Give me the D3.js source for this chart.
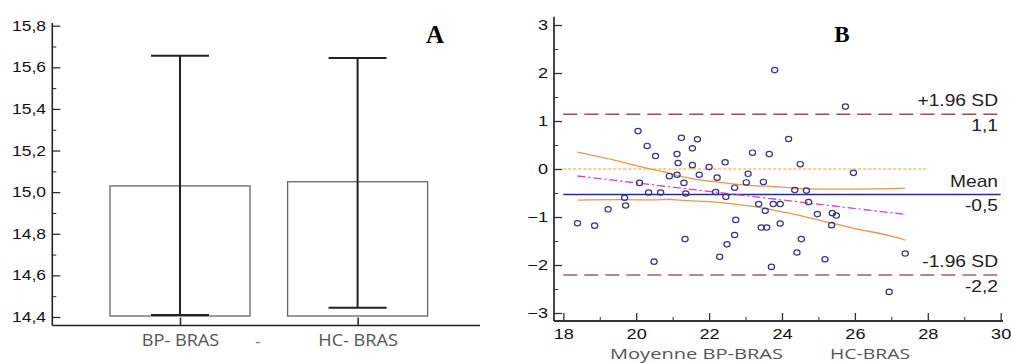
<!DOCTYPE html>
<html><head><meta charset="utf-8">
<script src="https://cdn.jsdelivr.net/npm/d3@7"></script>
<style>body{margin:0;background:#fff}svg{display:block}</style>
</head><body>
<svg id="c" width="1011" height="363"></svg>
<script>
// ---------- Panel A data ----------
const groups = ["BP- BRAS", "HC- BRAS"];
const groupMeans = [15.03, 15.05];
const groupLow = [14.41, 14.445];
const groupHigh = [15.655, 15.645];
const yTicksA = [14.4, 14.6, 14.8, 15.0, 15.2, 15.4, 15.6, 15.8];
const yMinorA = [14.5, 14.7, 14.9, 15.1, 15.3, 15.5, 15.7];

// ---------- Panel B data ----------
const meanX = [18.39,18.86,19.23,19.68,19.71,20.05,20.09,20.30,20.34,20.49,20.53,20.67,20.91,21.12,21.15,21.12,21.24,21.31,21.34,21.36,21.54,21.54,21.68,21.73,22.00,22.22,22.18,22.29,22.44,22.46,22.49,22.70,22.70,22.73,23.02,23.07,23.19,23.36,23.43,23.65,23.49,23.54,23.76,23.58,23.71,24.18,24.50,25.96,24.35,24.67,23.95,24.73,24.97,25.38,25.49,23.95,25.36,24.53,24.41,25.18,27.38,26.94,23.80,25.74];
const diffY = [-1.13,-1.18,-0.84,-0.60,-0.76,0.79,-0.29,0.48,-0.49,-1.93,0.27,-0.49,-0.15,0.31,0.125,-0.12,0.65,-0.29,-1.46,-0.51,0.43,0.08,0.62,-0.12,0.04,-0.18,-0.48,-1.83,0.14,-0.58,-1.57,-0.39,-1.375,-1.06,-0.28,-0.10,0.34,-0.73,-1.22,0.31,-0.27,-0.87,-0.73,-1.22,-2.04,0.625,0.10,-0.08,-0.44,-0.45,-0.73,-0.69,-0.94,-0.92,-0.97,-1.135,-1.17,-1.46,-1.74,-1.88,-1.76,-2.56,2.06,1.30];
const limitValues = [1.14, -0.53, -2.21];
const limitNames = ["+1.96 SD", "Mean", "-1.96 SD"];
const limitTexts = ["1,1", "-0,5", "-2,2"];
const zeroLineX = [18, 28];
const regX = [18.39, 27.38];
const regY = [-0.146, -0.945];
const ciX = [18.39, 19.6, 20.5, 20.9, 21.2, 22.2, 23.1, 23.8, 24.2, 25.1, 26.0, 27.0, 27.38];
const ciUpper = [0.35, 0.15, -0.02, -0.08, -0.15, -0.27, -0.34, -0.37, -0.39, -0.42, -0.42, -0.41, -0.40];
const ciLower = [-0.65, -0.64, -0.645, -0.63, -0.65, -0.69, -0.77, -0.86, -0.92, -1.08, -1.24, -1.40, -1.48];
const xTicksB = [18, 20, 22, 24, 26, 28, 30];
const xMinorB = [19, 21, 23, 25, 27, 29];
const yTicksB = [-3, -2, -1, 0, 1, 2, 3];
const yMinorB = [-2.5, -1.5, -0.5, 0.5, 1.5, 2.5];

const svg = d3.select("#c");
const loc = d3.formatLocale({decimal: ",", thousands: ".", grouping: [3], currency: ["", ""]});
const fmtA = loc.format(".1f");
const tickFont = "'Liberation Sans', Arial, sans-serif";
const labelFont = "'Open Sans', 'Noto Sans', sans-serif";

function stretchText(sel, sx) {
  sel.attr("transform", `scale(${sx},1)`);
}

// =============== Panel A ===============
const gA = svg.append("g");
const yA = d3.scaleLinear().domain([14.4, 15.8]).range([317, 25.7]);
const xA = d3.scalePoint().domain(groups).range([180, 357.6]);
const axXA = 52.3, axYA = 325.5;

// bars
gA.selectAll("rect.bar").data(groups).join("rect")
  .attr("x", d => xA(d) - 70)
  .attr("width", 140)
  .attr("y", (d, i) => yA(groupMeans[i]))
  .attr("height", (d, i) => yA(14.4) - yA(groupMeans[i]) - 1)
  .attr("fill", "#fff").attr("stroke", "#666").attr("stroke-width", 1.3);

// error bars
const eb = gA.selectAll("g.eb").data(groups).join("g").attr("stroke", "#222").attr("stroke-width", 2);
eb.append("line").attr("x1", d => xA(d)).attr("x2", d => xA(d))
  .attr("y1", (d, i) => yA(groupHigh[i])).attr("y2", (d, i) => yA(groupLow[i]));
eb.append("line").attr("x1", d => xA(d) - 29).attr("x2", d => xA(d) + 29)
  .attr("y1", (d, i) => yA(groupHigh[i])).attr("y2", (d, i) => yA(groupHigh[i]));
eb.append("line").attr("x1", d => xA(d) - 29).attr("x2", d => xA(d) + 29)
  .attr("y1", (d, i) => yA(groupLow[i])).attr("y2", (d, i) => yA(groupLow[i]));

// axes A
const yAxA = gA.append("g").attr("transform", `translate(${axXA},0)`)
  .call(d3.axisLeft(yA).tickValues(yTicksA).tickSize(-8).tickPadding(5).tickFormat(fmtA));
yAxA.select(".domain").remove();
yAxA.selectAll("line").attr("stroke", "#222").attr("stroke-width", 1.2);
yAxA.selectAll("text").attr("font-family", tickFont).attr("font-size", 14).attr("fill", "#111").call(stretchText, 1.25);
const yMinA = gA.append("g").attr("transform", `translate(${axXA},0)`)
  .call(d3.axisLeft(yA).tickValues(yMinorA).tickSize(-4).tickFormat(""));
yMinA.select(".domain").remove();
yMinA.selectAll("line").attr("stroke", "#222").attr("stroke-width", 1);

const xAxA = gA.append("g").attr("transform", `translate(0,${axYA})`)
  .call(d3.axisBottom(xA).tickSize(-8).tickPadding(9));
xAxA.select(".domain").remove();
xAxA.selectAll("line").attr("stroke", "#222").attr("stroke-width", 1.5);
xAxA.selectAll("text").attr("font-family", labelFont).attr("font-size", 16.5).attr("fill", "#555").call(stretchText, 1.1);
gA.append("text").attr("x", (xA(groups[0]) + xA(groups[1])) / 2 - 11).attr("y", axYA + 21)
  .attr("text-anchor", "middle").attr("font-family", labelFont).attr("font-size", 16).attr("fill", "#777").text("-");

gA.append("line").attr("x1", axXA).attr("x2", axXA).attr("y1", 23).attr("y2", axYA).attr("stroke", "#222").attr("stroke-width", 1.6);
gA.append("line").attr("x1", axXA).attr("x2", 480).attr("y1", axYA).attr("y2", axYA).attr("stroke", "#222").attr("stroke-width", 1.6);

gA.append("text").attr("x", 435).attr("y", 43.3).attr("text-anchor", "middle")
  .attr("font-family", "'Liberation Serif', 'Times New Roman', serif").attr("font-weight", "bold").attr("font-size", 25).text("A");

// =============== Panel B ===============
const gB = svg.append("g");
const xB = d3.scaleLinear().domain([18, 30]).range([563.3, 1000.7]);
const yB = d3.scaleLinear().domain([-3, 3]).range([313, 25]);
const axXB = 554, axYB = 321;

// limit lines
const limColors = ["#8e5555", "#2c2c88", "#9a6464"];
limitValues.forEach((v, i) => {
  const ln = gB.append("line").attr("x1", xB(18)).attr("x2", xB(30)).attr("y1", yB(v)).attr("y2", yB(v))
    .attr("stroke", limColors[i]).attr("stroke-width", i === 1 ? 1.6 : 1.5);
  if (i !== 1) ln.attr("stroke-dasharray", "14,7");
  const gt = gB.append("g").attr("transform", `translate(998,${yB(v) - 7.8})`);
  gt.append("text").attr("text-anchor", "end").attr("font-family", tickFont).attr("font-size", 16).attr("fill", "#222")
    .text(limitNames[i]).call(stretchText, 1.2);
  const gb = gB.append("g").attr("transform", `translate(998,${yB(v) + 16.8})`);
  gb.append("text").attr("text-anchor", "end").attr("font-family", tickFont).attr("font-size", 16).attr("fill", "#222")
    .text(limitTexts[i]).call(stretchText, 1.2);
});

// zero line
gB.append("line").attr("x1", xB(zeroLineX[0])).attr("x2", xB(zeroLineX[1])).attr("y1", yB(0)).attr("y2", yB(0))
  .attr("stroke", "#e8a048").attr("stroke-width", 1.2).attr("stroke-dasharray", "3,2");

// CI curves
const lineGen = d3.line().x(d => xB(d[0])).y(d => yB(d[1])).curve(d3.curveMonotoneX);
gB.append("path").attr("d", lineGen(ciX.map((x, i) => [x, ciUpper[i]])))
  .attr("fill", "none").attr("stroke", "#e39a4e").attr("stroke-width", 1.3);
gB.append("path").attr("d", lineGen(ciX.map((x, i) => [x, ciLower[i]])))
  .attr("fill", "none").attr("stroke", "#e39a4e").attr("stroke-width", 1.3);

// regression
gB.append("path").attr("d", d3.line().x(d => xB(d[0])).y(d => yB(d[1]))(regX.map((x, i) => [x, regY[i]])))
  .attr("fill", "none").attr("stroke", "#cc44cc").attr("stroke-width", 1.3).attr("stroke-dasharray", "8,3,2,3");

// points
gB.selectAll("ellipse.pt").data(meanX).join("ellipse")
  .attr("cx", d => xB(d)).attr("cy", (d, i) => yB(diffY[i]))
  .attr("rx", 3.1).attr("ry", 2.7)
  .attr("fill", "none").attr("stroke", "#343486").attr("stroke-width", 1.2);

// axes B
const yAxB = gB.append("g").attr("transform", `translate(${axXB},0)`)
  .call(d3.axisLeft(yB).tickValues(yTicksB).tickSize(-8).tickPadding(4.8).tickFormat(d3.format("d")));
yAxB.select(".domain").remove();
yAxB.selectAll("line").attr("stroke", "#333").attr("stroke-width", 1.3);
yAxB.selectAll("text").attr("font-family", tickFont).attr("font-size", 14.5).attr("fill", "#111").call(stretchText, 1.25);
const yMinB = gB.append("g").attr("transform", `translate(${axXB},0)`)
  .call(d3.axisLeft(yB).tickValues(yMinorB).tickSize(-4).tickFormat(""));
yMinB.select(".domain").remove();
yMinB.selectAll("line").attr("stroke", "#333").attr("stroke-width", 1);

const xAxB = gB.append("g").attr("transform", `translate(0,${axYB})`)
  .call(d3.axisBottom(xB).tickValues(xTicksB).tickSize(-8).tickPadding(8).tickFormat(d3.format("d")));
xAxB.select(".domain").remove();
xAxB.selectAll("line").attr("stroke", "#333").attr("stroke-width", 1.3);
xAxB.selectAll("text").attr("font-family", tickFont).attr("font-size", 14.5).attr("fill", "#111").call(stretchText, 1.25);
const xMinB = gB.append("g").attr("transform", `translate(0,${axYB})`)
  .call(d3.axisBottom(xB).tickValues(xMinorB).tickSize(-4).tickFormat(""));
xMinB.select(".domain").remove();
xMinB.selectAll("line").attr("stroke", "#333").attr("stroke-width", 1);

gB.append("line").attr("x1", axXB).attr("x2", axXB).attr("y1", 16.7).attr("y2", axYB).attr("stroke", "#333").attr("stroke-width", 1.8);
gB.append("line").attr("x1", axXB).attr("x2", 1003).attr("y1", axYB).attr("y2", axYB).attr("stroke", "#333").attr("stroke-width", 1.8);

// axis title
gB.append("text").attr("x", 610).attr("y", 358.5).attr("font-family", labelFont).attr("font-size", 15).attr("fill", "#555")
  .attr("textLength", 173).attr("lengthAdjust", "spacingAndGlyphs").text("Moyenne  BP-BRAS");
gB.append("text").attr("x", 830).attr("y", 358.5).attr("font-family", labelFont).attr("font-size", 15).attr("fill", "#555")
  .attr("textLength", 80).attr("lengthAdjust", "spacingAndGlyphs").text("HC-BRAS");

gB.append("text").attr("x", 842).attr("y", 41.7).attr("text-anchor", "middle")
  .attr("font-family", "'Liberation Serif', 'Times New Roman', serif").attr("font-weight", "bold").attr("font-size", 23).text("B");
</script>
</body></html>
